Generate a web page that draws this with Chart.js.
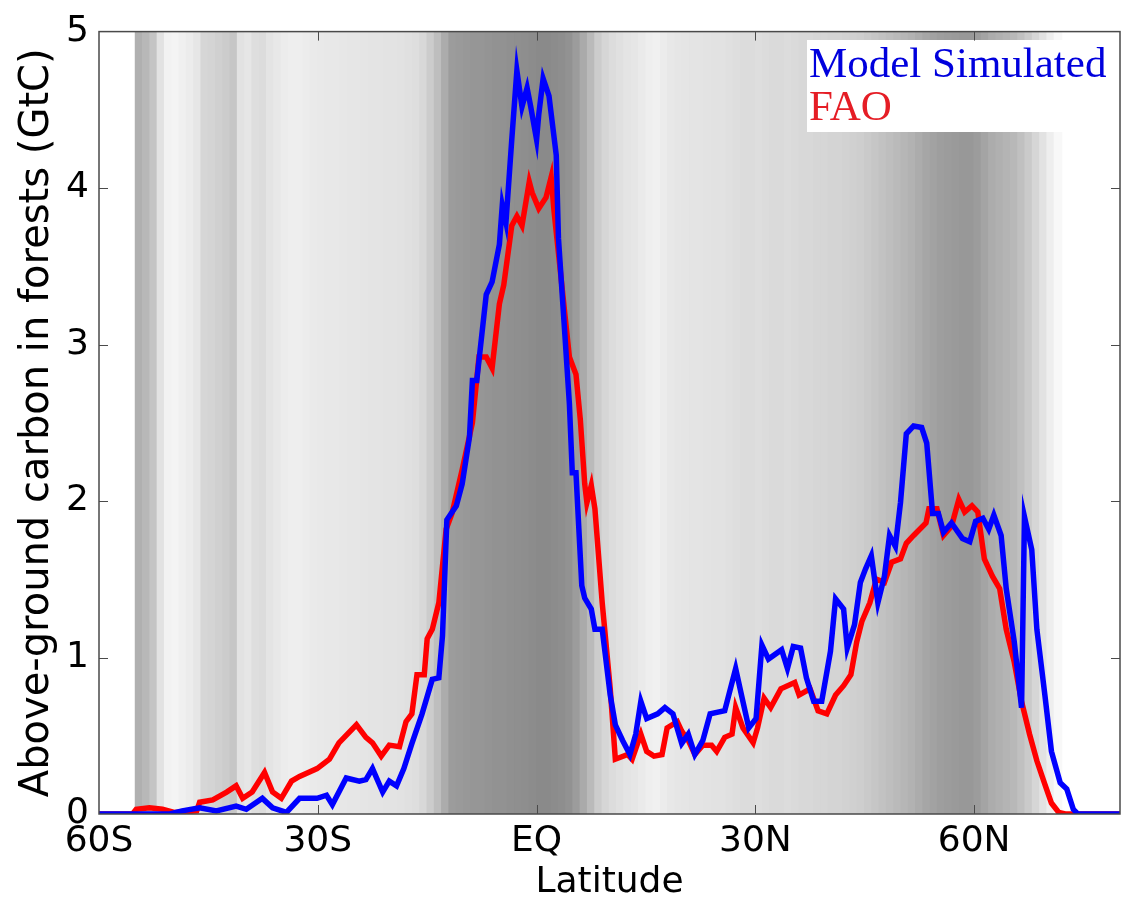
<!DOCTYPE html>
<html>
<head>
<meta charset="utf-8">
<title>Above-ground carbon in forests</title>
<style>
  html, body { margin: 0; padding: 0; background: #fff; }
  #wrap { width: 1123px; height: 904px; }
</style>
</head>
<body>
<div id="wrap"><canvas id="carbonChart" width="1123" height="904"></canvas></div>
<script src="https://cdn.jsdelivr.net/npm/chart.js@4.4.1/dist/chart.umd.min.js"></script>
<script>
// ----------------- DATA -----------------
const xTickValues = [-60, -30, 0, 30, 60];
const xTickLabels = ["60S", "30S", "EQ", "30N", "60N"];
const yTickValues = [0, 1, 2, 3, 4, 5];

// Model simulated (blue)
const modelLat = [
    -60, -50.3, -48.6, -46.2, -43.9, -41.2, -39.8, -37.6, -36.2, -34.3,
    -32.5, -30.1, -28.8, -28.0, -26.1, -24.3, -23.4, -22.5, -21.1, -20.2,
    -19.2, -18.2, -17.1, -15.7, -14.3, -13.4, -12.9, -12.3, -11.0, -10.2,
    -9.2, -8.8, -8.2, -6.9, -6.1, -5.1, -4.7, -4.2, -3.4, -2.7,
    -2.0, -1.3, -0.8, 0, 0.3, 0.9, 1.7, 2.7, 3.0, 3.9,
    4.5, 4.9, 5.4, 6.2, 6.6, 7.5, 8.0, 9.0, 10.1, 10.8,
    11.8, 12.8, 13.6, 14.3, 15.1, 16.6, 17.6, 18.7, 19.9, 20.8,
    21.7, 22.8, 23.8, 25.8, 27.3, 28.1, 29.1, 30.1, 30.9, 31.8,
    33.6, 34.4, 35.2, 36.2, 37.0, 38.0, 39.1, 40.3, 41.0, 42.1,
    42.6, 43.6, 44.4, 45.1, 45.9, 46.8, 47.7, 48.4, 49.2, 49.9,
    50.7, 51.7, 52.8, 53.5, 54.3, 55.1, 55.8, 56.9, 58.4, 59.4,
    60.2, 61.2, 62.0, 62.7, 63.7, 64.4, 65.5, 66.5, 66.9, 67.9,
    68.6, 69.7, 70.6, 71.8, 72.7, 73.6, 74.2, 80
];
const modelCarbon = [
    0, 0, 0.02, 0.04, 0.02, 0.05, 0.03, 0.10, 0.04, 0.01,
    0.10, 0.10, 0.12, 0.06, 0.23, 0.21, 0.22, 0.29, 0.14, 0.21,
    0.18, 0.29, 0.45, 0.64, 0.86, 0.87, 1.14, 1.88, 1.97, 2.11,
    2.41, 2.77, 2.77, 3.32, 3.40, 3.64, 3.89, 3.78, 4.31, 4.75,
    4.52, 4.64, 4.52, 4.31, 4.47, 4.70, 4.59, 4.21, 3.68, 3.05,
    2.62, 2.18, 2.18, 1.46, 1.38, 1.31, 1.18, 1.18, 0.76, 0.57,
    0.47, 0.38, 0.51, 0.72, 0.61, 0.64, 0.68, 0.64, 0.45, 0.51,
    0.38, 0.47, 0.64, 0.66, 0.93, 0.76, 0.55, 0.61, 1.08, 0.99,
    1.05, 0.93, 1.07, 1.06, 0.87, 0.72, 0.72, 1.04, 1.375, 1.31,
    1.06, 1.21, 1.48, 1.565, 1.65, 1.35, 1.52, 1.78, 1.71, 1.99,
    2.43, 2.48, 2.47, 2.37, 1.92, 1.92, 1.80, 1.86, 1.76, 1.74,
    1.87, 1.89, 1.82, 1.91, 1.78, 1.44, 1.10, 0.68, 1.90, 1.69,
    1.18, 0.76, 0.40, 0.20, 0.16, 0.03, 0, 0
];

// FAO (red)
const faoLat = [
    -60, -55.4, -54.9, -53.1, -51.3, -49.7, -46.6, -46.2, -44.4, -42.5,
    -41.2, -40.3, -39.0, -37.3, -36.2, -35.0, -33.6, -32.5, -30.1, -28.4,
    -27.1, -24.7, -23.4, -22.5, -21.3, -20.2, -18.8, -17.9, -17.1, -16.4,
    -15.4, -15.0, -14.3, -13.4, -12.4, -11.6, -10.2, -8.8, -7.9, -6.9,
    -6.1, -5.1, -4.5, -3.4, -2.7, -2.0, -1.0, -0.6, 0.3, 1.3,
    2.0, 2.4, 4.5, 5.4, 6.0, 6.6, 6.9, 7.5, 8.0, 9.0,
    10.1, 10.8, 12.5, 13.1, 14.3, 15.1, 16.1, 17.2, 17.9, 19.3,
    19.9, 20.8, 21.7, 22.8, 24.0, 24.7, 25.8, 26.8, 27.3, 28.3,
    29.7, 30.3, 31.2, 32.1, 33.5, 35.4, 36.0, 37.5, 38.6, 39.8,
    41.0, 42.1, 43.1, 43.9, 44.6, 45.7, 46.6, 47.7, 48.7, 49.9,
    50.7, 51.7, 53.4, 53.8, 54.9, 55.8, 56.9, 57.9, 58.7, 59.7,
    60.5, 61.4, 62.5, 63.5, 64.4, 65.5, 66.5, 67.6, 68.6, 69.7,
    70.6, 71.6, 72.5, 80
];
const faoCarbon = [
    0, 0, 0.03, 0.04, 0.03, 0.01, 0.02, 0.075, 0.09, 0.14,
    0.18, 0.10, 0.14, 0.265, 0.14, 0.10, 0.21, 0.24, 0.29, 0.35,
    0.455, 0.57, 0.49, 0.455, 0.37, 0.44, 0.43, 0.59, 0.64, 0.89,
    0.89, 1.12, 1.18, 1.35, 1.82, 1.92, 2.20, 2.50, 2.92, 2.92,
    2.85, 3.26, 3.38, 3.76, 3.82, 3.76, 4.04, 3.97, 3.87, 3.94,
    4.07, 3.85, 2.92, 2.81, 2.52, 2.11, 1.99, 2.10, 1.95, 1.35,
    0.80, 0.35, 0.38, 0.35, 0.51, 0.40, 0.37, 0.38, 0.55, 0.59,
    0.53, 0.47, 0.38, 0.44, 0.44, 0.40, 0.49, 0.51, 0.68, 0.55,
    0.455, 0.55, 0.74, 0.68, 0.80, 0.84, 0.76, 0.80, 0.66, 0.64,
    0.76, 0.82, 0.89, 1.10, 1.23, 1.35, 1.50, 1.48, 1.61, 1.63,
    1.73, 1.78, 1.86, 1.95, 1.95, 1.78, 1.84, 2.01, 1.93, 1.97,
    1.93, 1.63, 1.52, 1.44, 1.18, 0.97, 0.72, 0.51, 0.34, 0.19,
    0.07, 0.01, 0, 0
];

// grey shading behind the curves, one band per degree of latitude
const shadeLat = [
    -54.5, -53.5, -52.5, -51.5, -50.5, -49.5, -48.5, -47.5, -46.5, -45.5,
    -44.5, -43.5, -42.5, -41.5, -40.5, -39.5, -38.5, -37.5, -36.5, -35.5,
    -34.5, -33.5, -32.5, -31.5, -30.5, -29.5, -28.5, -27.5, -26.5, -25.5,
    -24.5, -23.5, -22.5, -21.5, -20.5, -19.5, -18.5, -17.5, -16.5, -15.5,
    -14.5, -13.5, -12.5, -11.5, -10.5, -9.5, -8.5, -7.5, -6.5, -5.5,
    -4.5, -3.5, -2.5, -1.5, -0.5, 0.5, 1.5, 2.5, 3.5, 4.5,
    5.5, 6.5, 7.5, 8.5, 9.5, 10.5, 11.5, 12.5, 13.5, 14.5,
    15.5, 16.5, 17.5, 18.5, 19.5, 20.5, 21.5, 22.5, 23.5, 24.5,
    25.5, 26.5, 27.5, 28.5, 29.5, 30.5, 31.5, 32.5, 33.5, 34.5,
    35.5, 36.5, 37.5, 38.5, 39.5, 40.5, 41.5, 42.5, 43.5, 44.5,
    45.5, 46.5, 47.5, 48.5, 49.5, 50.5, 51.5, 52.5, 53.5, 54.5,
    55.5, 56.5, 57.5, 58.5, 59.5, 60.5, 61.5, 62.5, 63.5, 64.5,
    65.5, 66.5, 67.5, 68.5, 69.5, 70.5, 71.5
];
const shadeGrey = [
    176, 184, 196, 226, 242, 244, 240, 236, 230, 214,
    212, 208, 204, 198, 226, 230, 222, 220, 228, 232,
    236, 238, 238, 236, 234, 233, 232, 232, 231, 230,
    230, 229, 228, 228, 227, 227, 226, 224, 222, 216,
    204, 190, 172, 156, 154, 152, 150, 150, 148, 146,
    146, 144, 143, 142, 140, 138, 138, 140, 142, 146,
    156, 170, 186, 204, 214, 220, 224, 228, 230, 234,
    238, 240, 236, 232, 230, 229, 228, 228, 227, 226,
    226, 224, 222, 220, 220, 222, 220, 218, 218, 220,
    218, 216, 216, 214, 214, 212, 212, 210, 208, 206,
    202, 198, 194, 190, 186, 182, 178, 172, 166, 162,
    158, 156, 154, 152, 152, 156, 164, 172, 176, 180,
    184, 192, 202, 214, 226, 238, 248
];

const yMax = 5;

// ----------------- CHART SETUP -----------------
Chart.defaults.font.family = "'DejaVu Sans', sans-serif";
Chart.defaults.color = "#000";

const toPoints = (xs, ys) => xs.map((x, i) => ({ x: x, y: ys[i] }));

// MATLAB style box, inward ticks and the text legend
const boxPlugin = {
    id: "matlabBox",
    afterDatasetsDraw(chart) {
        const { ctx, chartArea: a, scales } = chart;
        ctx.save();

        // legend
        ctx.fillStyle = "#fff";
        ctx.fillRect(a.left + 708, 40, a.right - a.left - 708, 92);
        ctx.font = "43px 'Liberation Serif', serif";
        ctx.textBaseline = "alphabetic";
        ctx.textAlign = "left";
        ctx.fillStyle = "#0000dd";
        ctx.fillText("Model Simulated", a.left + 710, 77);
        ctx.fillStyle = "#e51d25";
        ctx.fillText("FAO", a.left + 710, 120);

        // box
        ctx.strokeStyle = "#4a4a4a";
        ctx.lineWidth = 1.5;
        ctx.strokeRect(a.left, a.top, a.right - a.left, a.bottom - a.top);

        // ticks
        ctx.lineWidth = 1;
        ctx.beginPath();
        xTickValues.forEach(v => {
            const px = Math.round(scales.x.getPixelForValue(v)) + 0.5;
            if (px <= a.left + 1 || px >= a.right - 1) return;
            ctx.moveTo(px, a.bottom); ctx.lineTo(px, a.bottom - 9);
            ctx.moveTo(px, a.top); ctx.lineTo(px, a.top + 9);
        });
        yTickValues.forEach(v => {
            const py = Math.round(scales.y.getPixelForValue(v)) + 0.5;
            if (py <= a.top + 1 || py >= a.bottom - 1) return;
            ctx.moveTo(a.left, py); ctx.lineTo(a.left + 9, py);
            ctx.moveTo(a.right, py); ctx.lineTo(a.right - 9, py);
        });
        ctx.stroke();
        ctx.restore();
    }
};

const ctx = document.getElementById("carbonChart").getContext("2d");

const carbonChart = new Chart(ctx, {
    type: "line",
    data: {
        datasets: [
            {
                label: "Model Simulated",
                data: toPoints(modelLat, modelCarbon),
                borderColor: "#0000ff",
                borderWidth: 5.5,
                pointRadius: 0,
                tension: 0,
                order: 0
            },
            {
                label: "FAO",
                data: toPoints(faoLat, faoCarbon),
                borderColor: "#ff0000",
                borderWidth: 5.5,
                pointRadius: 0,
                tension: 0,
                order: 1
            },
            {
                type: "bar",
                label: "shade",
                data: shadeLat.map(x => ({ x: x, y: yMax })),
                backgroundColor: shadeGrey.map(g => `rgb(${g},${g},${g})`),
                borderWidth: 0,
                barThickness: 8,
                order: 2
            }
        ]
    },
    options: {
        responsive: false,
        animation: false,
        layout: { padding: { top: 25, right: 3, left: 0, bottom: 0 } },
        plugins: {
            legend: { display: false },
            tooltip: { enabled: false }
        },
        scales: {
            x: {
                type: "linear",
                min: -60,
                max: 80,
                offset: false,
                afterBuildTicks: s => { s.ticks = xTickValues.map(v => ({ value: v })); },
                afterFit: s => { s.height = 90; },
                ticks: {
                    callback: (v, i) => xTickLabels[i],
                    font: { size: 36 },
                    padding: 6,
                    maxRotation: 0,
                    autoSkip: false
                },
                grid: { display: false, drawTicks: false },
                border: { display: false },
                title: {
                    display: true,
                    text: "Latitude",
                    font: { size: 36 },
                    padding: { top: 0, bottom: 0 }
                }
            },
            y: {
                min: 0,
                max: yMax,
                afterBuildTicks: s => { s.ticks = yTickValues.map(v => ({ value: v })); },
                afterFit: s => { s.width = 99; },
                ticks: { font: { size: 36 }, padding: 10 },
                grid: { display: false, drawTicks: false },
                border: { display: false },
                title: {
                    display: true,
                    text: "Above-ground carbon in forests (GtC)",
                    font: { size: 40 },
                    padding: { top: 14, bottom: 0 }
                }
            }
        }
    },
    plugins: [boxPlugin]
});
</script>
</body>
</html>
